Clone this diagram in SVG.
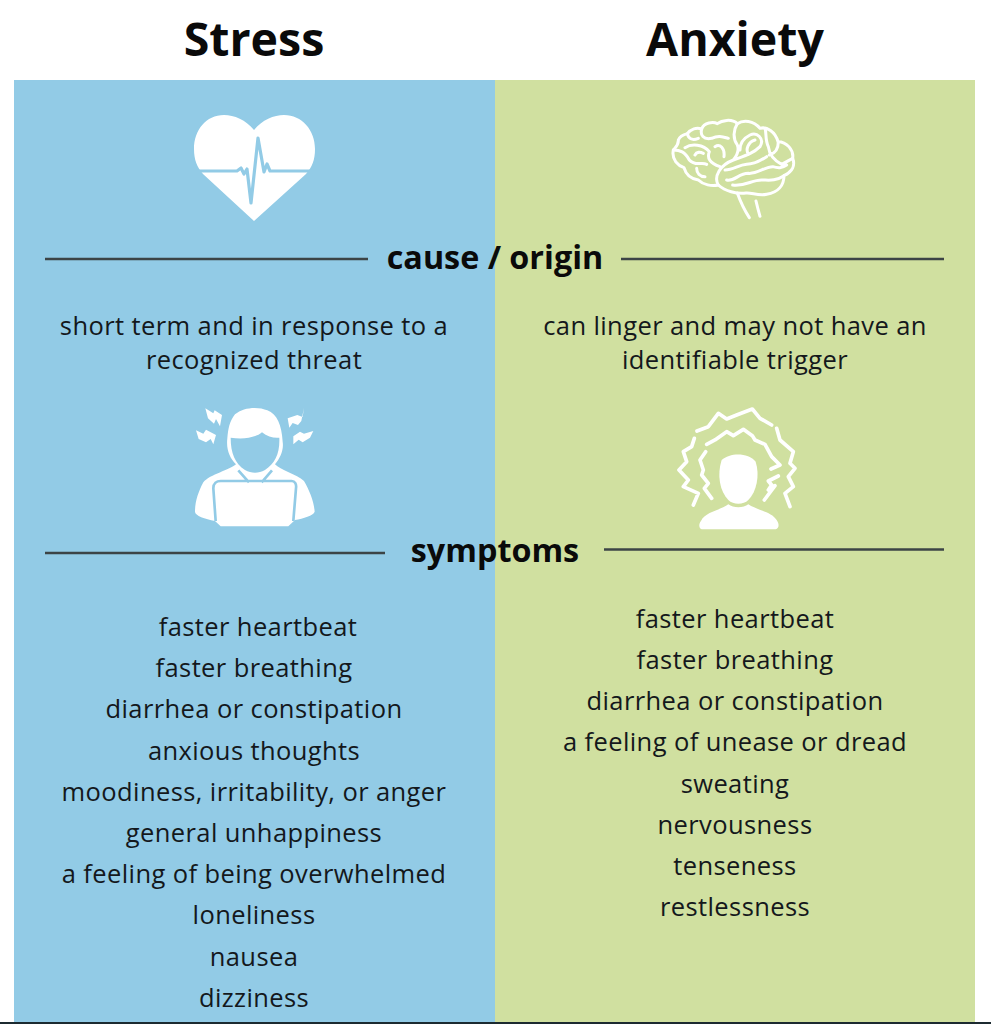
<svg xmlns="http://www.w3.org/2000/svg" width="991" height="1024" viewBox="0 0 991 1024">
<style>
text{font-family:"Open Sans","Liberation Sans",sans-serif;fill:#14181c;text-anchor:middle}
.h{font-size:46.500px;font-weight:700;fill:#0a0a0a}
.s{font-size:32.300px;font-weight:700;fill:#0a0a0a}
.b{font-size:25.500px;letter-spacing:.4px}
.r{stroke:#3c4446;stroke-width:2.6;fill:none}
.w{fill:#fff}
.o{fill:none;stroke:#fff;stroke-width:9;stroke-linecap:round;stroke-linejoin:round}
.c{fill:#92cbe6}
.l{fill:none;stroke:#92cbe6;stroke-width:8;stroke-linejoin:round}
</style>
<rect width="991" height="1024" fill="#fff"/>
<rect x="14" y="80" width="481" height="942" fill="#92cbe6"/>
<rect x="495" y="80" width="480" height="942" fill="#d0e0a0"/>
<rect x="0" y="1022" width="991" height="2" fill="#1c2a30"/>
<text class="h" x="254" y="56">Stress</text>
<text class="h" x="735" y="56">Anxiety</text>
<g id="heart">
<path class="w" d="M254 130C246 120 234 115 224 115C206 115 194 130 194 149C194 160 197 167 203 174L254 221L306 174C312 167 315 160 315 149C315 130 302 115 284 115C274 115 262 120 254 130Z"/>
<path d="M198 171H237L241 168L244 174L247 169L251 203L258 138L264 172L267 164L270 171H311" fill="none" stroke="#92cbe6" stroke-width="3.2" stroke-linejoin="round"/>
</g>
<g id="brain" transform="translate(650 105) scale(.3333)">
<path class="o" d="M70 135C78 125 86 120 85 105C90 92 104 88 112 86C122 72 140 66 155 72C162 52 190 50 202 56C215 46 245 40 262 56C280 44 310 46 330 70C350 64 376 80 384 110C410 110 432 135 428 160C436 180 428 200 402 212C402 240 385 262 350 268C325 274 305 262 288 264C260 268 225 258 205 240C185 244 160 240 145 225C125 222 108 210 102 188C85 182 64 165 70 135Z"/>
<path class="o" d="M262 264C272 292 285 318 298 338M318 288C322 305 326 320 330 334M205 240C190 215 210 180 250 165C285 152 310 145 330 125C345 100 320 80 300 90C280 100 270 115 270 135M262 56C250 75 248 100 262 120C268 135 262 150 250 165M296 148C285 135 295 110 315 105M345 70C350 85 345 105 355 125C358 150 370 165 395 178L428 160M385 110C385 130 375 145 358 150M155 72C150 90 160 105 185 100C205 90 218 95 235 100M112 86C115 100 125 108 145 100M105 128C125 115 160 118 178 140C170 160 180 175 210 185M70 135C90 135 105 140 118 165C135 185 155 170 170 178M135 150C140 140 150 140 160 145M195 125C210 115 225 130 222 155M140 190C140 205 150 215 165 215M230 225C255 230 265 205 295 205C320 208 345 185 368 185C385 190 395 190 410 180M248 240C285 245 305 225 335 225C355 225 375 230 402 212M225 195C250 195 265 180 290 178C315 178 335 165 350 155"/>
</g>
<g id="stressed-person" transform="translate(180 395) scale(.3333)">
<path class="w" d="M165 58C190 36 235 34 262 46C292 58 305 90 308 140C312 165 300 190 285 208C300 225 350 238 372 258C388 285 402 320 404 350C400 362 370 370 345 375L325 394H122L105 378C75 372 45 362 45 350C45 320 55 290 70 262C90 238 150 225 168 208C150 190 138 165 142 130C145 100 148 80 165 58Z"/>
<path class="c" d="M152 128C190 134 228 128 246 112C262 125 282 130 298 128C300 175 285 205 255 225C235 236 215 236 195 225C165 205 152 175 152 128Z"/>
<path class="l" d="M175 226L207 262M276 226L245 262M107 378L100 280C100 265 110 258 122 258H335C345 258 350 268 348 280L340 378"/>
<path class="w" d="M76 40L100 55L104 46L126 60L120 94L108 72L102 86L84 70Z"/>
<path class="w" d="M48 106L70 116L78 104L108 120L100 148L92 132L78 142L56 132Z"/>
<path class="w" d="M372 38L368 66L352 60L323 70L328 98L338 84L354 90L364 78Z"/>
<path class="w" d="M400 108L372 116L360 110L340 124L340 148L356 134L368 142L390 128Z"/>
</g>
<g id="anxious-person" transform="translate(665 395) scale(.3333)">
<path class="w" d="M170 195C195 172 250 172 272 200C285 240 275 290 250 315C235 330 205 330 190 315C165 290 155 240 170 195Z"/>
<path class="w" d="M190 328C170 345 120 350 108 378C100 388 102 400 110 403H332C342 400 344 388 335 375C320 350 275 345 250 328C235 340 205 340 190 328Z"/>
<path class="o" style="stroke-width:11" d="M96 108L130 95L160 55L185 72L215 60L262 42L285 70L320 90M125 148L150 135L185 110L205 122L235 103L262 122L270 135L300 148L320 185L345 210L318 222M335 100L345 135L385 170L375 205L390 220L370 245L385 275L360 295L375 335M88 130L80 155L55 170L65 200L42 225L70 255L55 275L100 295L85 330M122 170L105 195L115 225L110 240L130 265L118 280L140 310M340 243L310 258L320 270L310 285L330 272L298 315"/>
</g>
<g id="connectors">
<path class="r" d="M45 259H368M621 259H944M45 553H385M604 549.500H944"/>
</g>
<text class="s" x="495" y="269">cause / origin</text>
<text class="s" x="495" y="562">symptoms</text>
<g class="b">
<text x="254" y="335">short term and in response to a</text>
<text x="254" y="369">recognized threat</text>
<text x="735" y="335">can linger and may not have an</text>
<text x="735" y="369">identifiable trigger</text>
<text x="258" y="636">faster heartbeat</text>
<text x="254" y="677">faster breathing</text>
<text x="254" y="718">diarrhea or constipation</text>
<text x="254" y="760">anxious thoughts</text>
<text x="254" y="801">moodiness, irritability, or anger</text>
<text x="254" y="842">general unhappiness</text>
<text x="254" y="883">a feeling of being overwhelmed</text>
<text x="254" y="924">loneliness</text>
<text x="254" y="966">nausea</text>
<text x="254" y="1007">dizziness</text>
<text x="735" y="628">faster heartbeat</text>
<text x="735" y="669">faster breathing</text>
<text x="735" y="710">diarrhea or constipation</text>
<text x="735" y="751">a feeling of unease or dread</text>
<text x="735" y="793">sweating</text>
<text x="735" y="834">nervousness</text>
<text x="735" y="875">tenseness</text>
<text x="735" y="916">restlessness</text>
</g>
</svg>
